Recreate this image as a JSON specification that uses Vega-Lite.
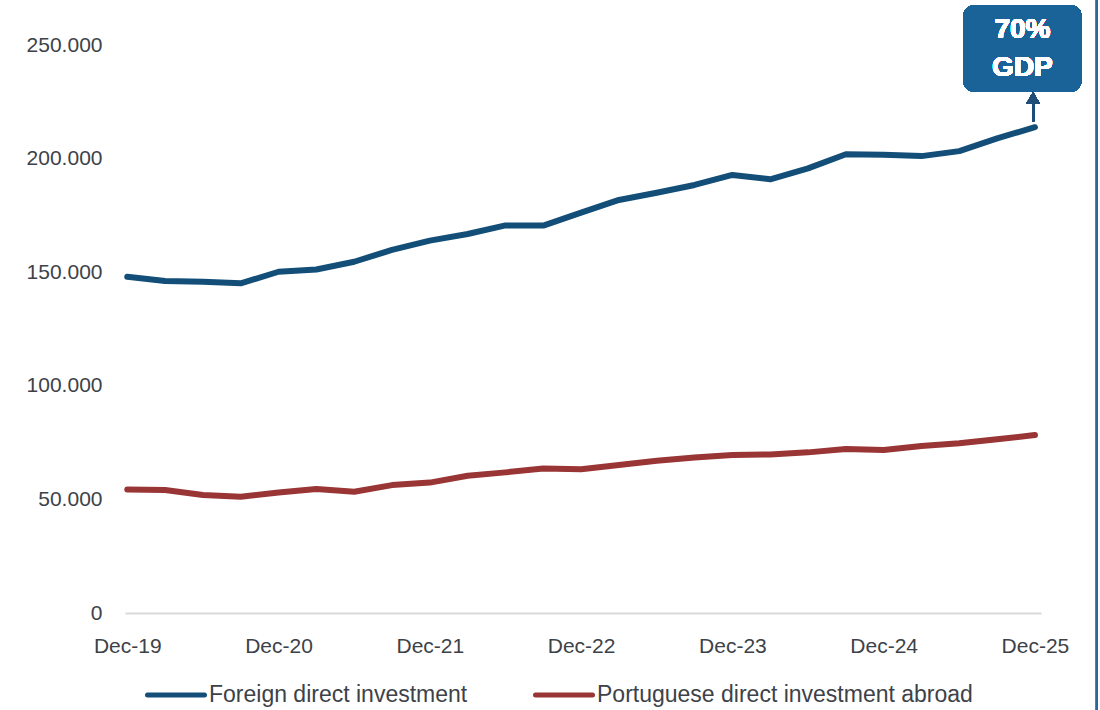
{
  "$schema": "https://vega.github.io/schema/vega-lite/v6.json",
  "width": 916,
  "height": 568,
  "autosize": "none",
  "padding": {"left": 125, "top": 45, "right": 59, "bottom": 97},
  "background": "white",
  "config": {
    "view": {"stroke": null},
    "font": "Liberation Sans"
  },
  "data": {
    "values": [
      {"q": 0, "period": "Dec-19", "series": "Foreign direct investment", "value": 148000},
      {"q": 1, "period": "Mar-20", "series": "Foreign direct investment", "value": 146100},
      {"q": 2, "period": "Jun-20", "series": "Foreign direct investment", "value": 145800},
      {"q": 3, "period": "Sep-20", "series": "Foreign direct investment", "value": 145100},
      {"q": 4, "period": "Dec-20", "series": "Foreign direct investment", "value": 150200},
      {"q": 5, "period": "Mar-21", "series": "Foreign direct investment", "value": 151200},
      {"q": 6, "period": "Jun-21", "series": "Foreign direct investment", "value": 154600},
      {"q": 7, "period": "Sep-21", "series": "Foreign direct investment", "value": 159800},
      {"q": 8, "period": "Dec-21", "series": "Foreign direct investment", "value": 163900},
      {"q": 9, "period": "Mar-22", "series": "Foreign direct investment", "value": 166800},
      {"q": 10, "period": "Jun-22", "series": "Foreign direct investment", "value": 170600},
      {"q": 11, "period": "Sep-22", "series": "Foreign direct investment", "value": 170500},
      {"q": 12, "period": "Dec-22", "series": "Foreign direct investment", "value": 176200},
      {"q": 13, "period": "Mar-23", "series": "Foreign direct investment", "value": 181800},
      {"q": 14, "period": "Jun-23", "series": "Foreign direct investment", "value": 185000},
      {"q": 15, "period": "Sep-23", "series": "Foreign direct investment", "value": 188400},
      {"q": 16, "period": "Dec-23", "series": "Foreign direct investment", "value": 192800},
      {"q": 17, "period": "Mar-24", "series": "Foreign direct investment", "value": 190900},
      {"q": 18, "period": "Jun-24", "series": "Foreign direct investment", "value": 195700},
      {"q": 19, "period": "Sep-24", "series": "Foreign direct investment", "value": 201900},
      {"q": 20, "period": "Dec-24", "series": "Foreign direct investment", "value": 201700},
      {"q": 21, "period": "Mar-25", "series": "Foreign direct investment", "value": 201100},
      {"q": 22, "period": "Jun-25", "series": "Foreign direct investment", "value": 203300},
      {"q": 23, "period": "Sep-25", "series": "Foreign direct investment", "value": 208900},
      {"q": 24, "period": "Dec-25", "series": "Foreign direct investment", "value": 213800},
      {"q": 0, "period": "Dec-19", "series": "Portuguese direct investment abroad", "value": 54400},
      {"q": 1, "period": "Mar-20", "series": "Portuguese direct investment abroad", "value": 54100},
      {"q": 2, "period": "Jun-20", "series": "Portuguese direct investment abroad", "value": 51900},
      {"q": 3, "period": "Sep-20", "series": "Portuguese direct investment abroad", "value": 51200},
      {"q": 4, "period": "Dec-20", "series": "Portuguese direct investment abroad", "value": 53000},
      {"q": 5, "period": "Mar-21", "series": "Portuguese direct investment abroad", "value": 54600},
      {"q": 6, "period": "Jun-21", "series": "Portuguese direct investment abroad", "value": 53400},
      {"q": 7, "period": "Sep-21", "series": "Portuguese direct investment abroad", "value": 56300},
      {"q": 8, "period": "Dec-21", "series": "Portuguese direct investment abroad", "value": 57400},
      {"q": 9, "period": "Mar-22", "series": "Portuguese direct investment abroad", "value": 60400},
      {"q": 10, "period": "Jun-22", "series": "Portuguese direct investment abroad", "value": 61900},
      {"q": 11, "period": "Sep-22", "series": "Portuguese direct investment abroad", "value": 63600},
      {"q": 12, "period": "Dec-22", "series": "Portuguese direct investment abroad", "value": 63300},
      {"q": 13, "period": "Mar-23", "series": "Portuguese direct investment abroad", "value": 65100},
      {"q": 14, "period": "Jun-23", "series": "Portuguese direct investment abroad", "value": 67000},
      {"q": 15, "period": "Sep-23", "series": "Portuguese direct investment abroad", "value": 68400},
      {"q": 16, "period": "Dec-23", "series": "Portuguese direct investment abroad", "value": 69500},
      {"q": 17, "period": "Mar-24", "series": "Portuguese direct investment abroad", "value": 69800},
      {"q": 18, "period": "Jun-24", "series": "Portuguese direct investment abroad", "value": 70700},
      {"q": 19, "period": "Sep-24", "series": "Portuguese direct investment abroad", "value": 72200},
      {"q": 20, "period": "Dec-24", "series": "Portuguese direct investment abroad", "value": 71700},
      {"q": 21, "period": "Mar-25", "series": "Portuguese direct investment abroad", "value": 73500},
      {"q": 22, "period": "Jun-25", "series": "Portuguese direct investment abroad", "value": 74700},
      {"q": 23, "period": "Sep-25", "series": "Portuguese direct investment abroad", "value": 76500},
      {"q": 24, "period": "Dec-25", "series": "Portuguese direct investment abroad", "value": 78300}
    ]
  },
  "layer": [
    {
      "mark": {"type": "line", "strokeWidth": 6, "strokeCap": "round", "strokeJoin": "round"},
      "encoding": {
        "x": {
          "field": "q", "type": "quantitative",
          "scale": {"domain": [-0.06, 24.16], "nice": false, "zero": false},
          "axis": {
            "title": null, "grid": false, "ticks": false, "tickSize": 0,
            "values": [0, 4, 8, 12, 16, 20, 24],
            "labelExpr": "'Dec-' + (19 + datum.value / 4)",
            "labelFontSize": 21, "labelColor": "#3d4248", "labelPadding": 22,
            "labelFont": "Liberation Sans",
            "domainColor": "#d9d9d9", "domainWidth": 2
          }
        },
        "y": {
          "field": "value", "type": "quantitative",
          "scale": {"domain": [0, 250000], "nice": false},
          "axis": {
            "title": null, "grid": false, "ticks": false, "domain": false,
            "values": [0, 50000, 100000, 150000, 200000, 250000],
            "labelExpr": "replace(format(datum.value, ','), ',', '.')",
            "labelFontSize": 21, "labelColor": "#3d4248", "labelPadding": 23,
            "labelFont": "Liberation Sans"
          }
        },
        "color": {
          "field": "series", "type": "nominal",
          "scale": {
            "domain": ["Foreign direct investment", "Portuguese direct investment abroad"],
            "range": ["#124e78", "#993535"]
          },
          "legend": {
            "title": null, "orient": "none", "direction": "horizontal",
            "legendX": 20, "legendY": 619,
            "symbolType": "stroke", "symbolSize": 3249, "symbolStrokeWidth": 5,
            "labelFontSize": 23, "labelColor": "#3d4248", "labelFont": "Liberation Sans",
            "labelOffset": 2, "columnPadding": 57,
            "labelLimit": 500,
            "encode": {"symbols": {"update": {"strokeCap": {"value": "round"}}}}
          }
        }
      }
    },
    {
      "mark": {"type": "rect", "fill": "#1a6399", "cornerRadius": 12, "clip": false},
      "encoding": {
        "x": {"datum": 22.1, "type": "quantitative"},
        "x2": {"datum": 25.24},
        "y": {"datum": 229300, "type": "quantitative"},
        "y2": {"datum": 267600}
      }
    },
    {
      "mark": {
        "type": "text", "text": "70%", "color": "white", "fontWeight": "bold",
        "fontSize": 28, "align": "center", "baseline": "middle",
        "font": "Liberation Sans"
      },
      "encoding": {
        "x": {"datum": 23.67, "type": "quantitative"},
        "y": {"datum": 256600, "type": "quantitative"}
      }
    },
    {
      "mark": {
        "type": "text", "text": "GDP", "color": "white", "fontWeight": "bold",
        "fontSize": 28, "align": "center", "baseline": "middle",
        "font": "Liberation Sans"
      },
      "encoding": {
        "x": {"datum": 23.67, "type": "quantitative"},
        "y": {"datum": 239900, "type": "quantitative"}
      }
    },
    {
      "mark": {"type": "rule", "color": "#1f4e79", "strokeWidth": 2},
      "encoding": {
        "x": {"datum": 23.95, "type": "quantitative"},
        "y": {"datum": 216300, "type": "quantitative"},
        "y2": {"datum": 225500}
      }
    },
    {
      "mark": {"type": "point", "shape": "triangle-up", "filled": true, "color": "#1f4e79", "opacity": 1, "size": 190},
      "encoding": {
        "x": {"datum": 23.95, "type": "quantitative"},
        "y": {"datum": 226700, "type": "quantitative"}
      }
    },
    {
      "mark": {"type": "rule", "color": "#2a679f", "strokeWidth": 2, "clip": false},
      "encoding": {
        "x": {"datum": 25.64, "type": "quantitative"},
        "y": {"datum": -43000, "type": "quantitative"},
        "y2": {"datum": 270000}
      }
    }
  ]
}
